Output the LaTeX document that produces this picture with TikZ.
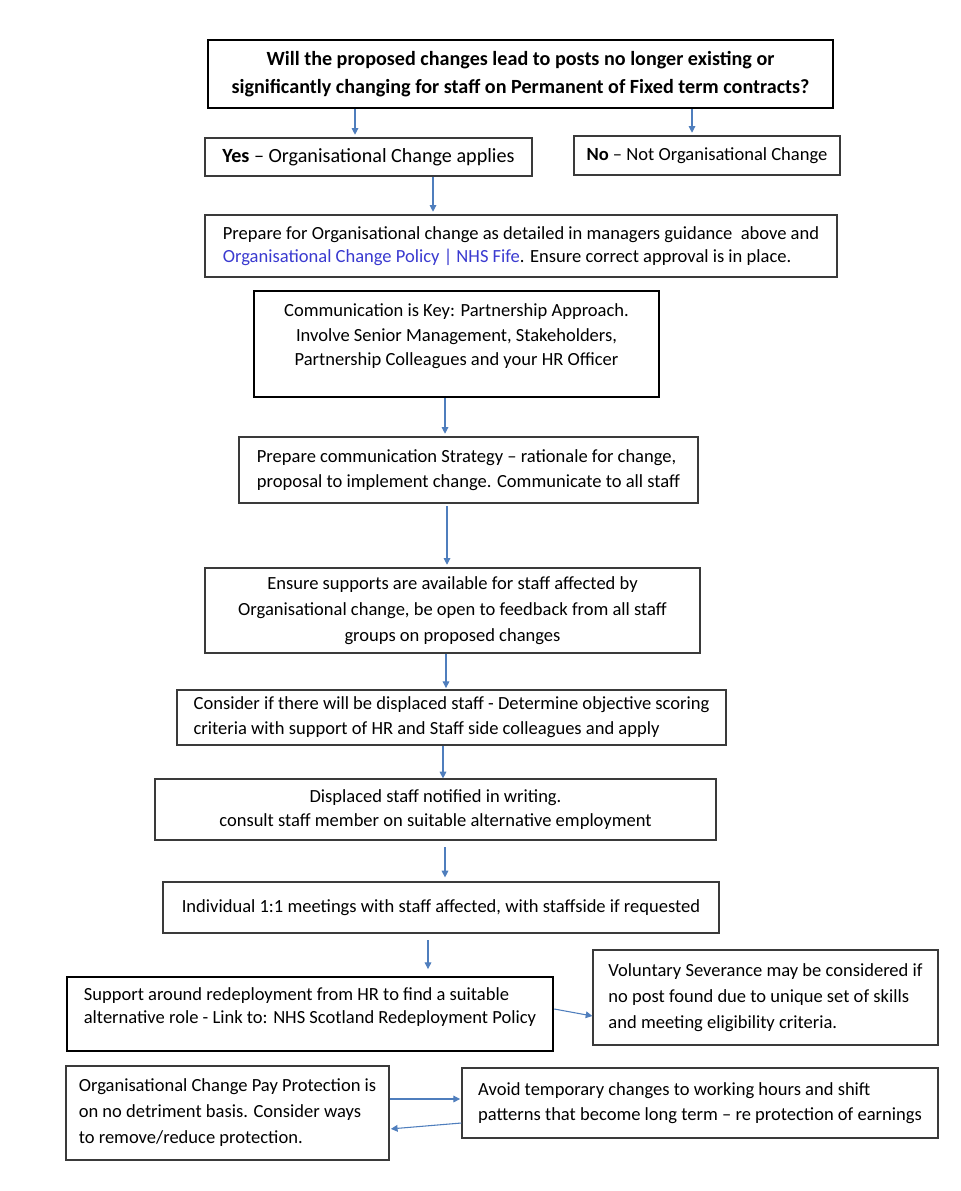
\documentclass[tikz,border=0pt]{standalone}
\usepackage{fontspec}
\setmainfont{Carlito}
\usetikzlibrary{arrows.meta}
\definecolor{arrblue}{HTML}{4F7EBD}
\definecolor{linkblue}{HTML}{3A3AD0}
\definecolor{boxgray}{HTML}{3A3A3A}
\tikzset{
  thinbox/.style={draw=boxgray, line width=0.9pt, inner sep=0pt, align=left,
    font=\fontsize{13.9}{18.6}\selectfont},
  thickbox/.style={thinbox, draw=black, line width=1.9pt},
  arr/.style={draw=arrblue, line width=0.8pt, -{Triangle[length=5pt,width=5pt]}}
}
\begin{document}
\begin{tikzpicture}[x=0.75pt,y=-0.75pt]
\useasboundingbox[fill=white] (0,0) rectangle (960,1191);

\node[thickbox, align=center, minimum width=468.75pt, minimum height=51pt,
  font=\fontsize{15.1}{21}\selectfont\bfseries] (q) at (520.5,74)
  {Will the proposed changes lead to posts no longer existing or\\
   significantly changing for staff on Permanent of Fixed term contracts?};

\node[thinbox, minimum width=245.25pt, minimum height=28.5pt,
  font=\fontsize{15.1}{18}\selectfont] (yes) at (368.5,157)
  {\textbf{Yes} – Organisational Change applies};

\node[thinbox, minimum width=199.5pt, minimum height=29.25pt] (no) at (707,155.5)
  {\textbf{No} – Not Organisational Change};

\node[thinbox, minimum width=474pt, minimum height=46.5pt,
  font=\fontsize{13.9}{17.5}\selectfont] (prep) at (521,246)
  {Prepare for Organisational change as detailed in managers guidance\ \ above and\\
   \textcolor{linkblue}{Organisational Change Policy | NHS Fife}. Ensure correct approval is in place.};

\node[thickbox, align=center, minimum width=303.75pt, minimum height=79.5pt,
  text depth=14pt] (comm) at (456.5,344)
  {Communication is Key: Partnership Approach.\\
   Involve Senior Management, Stakeholders,\\
   Partnership Colleagues and your HR Officer};

\node[thinbox, minimum width=344.25pt, minimum height=49.5pt] (strat) at (468.5,470)
  {Prepare communication Strategy – rationale for change,\\
   proposal to implement change. Communicate to all staff};

\node[thinbox, align=center, minimum width=371.25pt, minimum height=63.75pt,
  font=\fontsize{13.9}{19.5}\selectfont] (ensure) at (452.5,610.5)
  {Ensure supports are available for staff affected by\\
   Organisational change, be open to feedback from all staff\\
   groups on proposed changes};

\node[thinbox, minimum width=411.75pt, minimum height=41.25pt] (consider) at (451.5,717.5)
  {Consider if there will be displaced staff - Determine objective scoring\\
   criteria with support of HR and Staff side colleagues and apply};

\node[thinbox, align=center, minimum width=420.75pt, minimum height=45.75pt,
  font=\fontsize{13.9}{17.5}\selectfont] (displaced) at (435.5,809.5)
  {Displaced staff notified in writing.\\
   consult staff member on suitable alternative employment};

\node[thinbox, minimum width=417pt, minimum height=38.25pt] (indiv) at (441,907.5)
  {Individual 1:1 meetings with staff affected, with staffside if requested};

\node[thickbox, minimum width=364.5pt, minimum height=55.5pt, text depth=13pt,
  font=\fontsize{13.9}{17.5}\selectfont] (support) at (310,1014)
  {Support around redeployment from HR to find a suitable\\
   alternative role - Link to: NHS Scotland Redeployment Policy};

\node[thinbox, minimum width=258.75pt, minimum height=71.25pt,
  font=\fontsize{13.9}{19.5}\selectfont] (vol) at (765.5,997.5)
  {Voluntary Severance may be considered if\\
   no post found due to unique set of skills\\
   and meeting eligibility criteria.};

\node[thinbox, minimum width=242.25pt, minimum height=70.5pt,
  font=\fontsize{13.9}{19.5}\selectfont] (pay) at (227.5,1113)
  {Organisational Change Pay Protection is\\
   on no detriment basis. Consider ways\\
   to remove/reduce protection.};

\node[thinbox, minimum width=357pt, minimum height=52.5pt] (avoid) at (700,1103)
  {Avoid temporary changes to working hours and shift\\
   patterns that become long term – re protection of earnings};

% connectors
\draw[arr, shorten >=2pt] (q.south -| 355,0) -- (yes.north -| 355,0);
\draw[arr, shorten >=2pt] (q.south -| 692,0) -- (no.north -| 692,0);
\draw[arr, shorten >=2pt] (yes.south -| 433,0) -- (prep.north -| 433,0);
\draw[arr, shorten >=2pt] (comm.south -| 445,0) -- (strat.north -| 445,0);
\draw[arr, shorten <=2pt, shorten >=2pt] (strat.south -| 447,0) -- (ensure.north -| 447,0);
\draw[arr, shorten >=1pt] (ensure.south -| 446,0) -- (consider.north -| 446,0);
\draw[arr] (consider.south -| 443,0) -- (displaced.north -| 443,0);
\draw[arr, shorten <=5pt, shorten >=3pt] (displaced.south -| 445,0) -- (indiv.north -| 445,0);
\draw[arr, shorten <=5pt, shorten >=5pt] (indiv.south -| 428,0) -- (support.north -| 428,0);
\draw[arr] (support.east |- 0,1009) -- (vol.west |- 0,1016);
\draw[arr, shorten >=1pt] (pay.east |- 0,1099) -- (avoid.west |- 0,1099);
\draw[arr, shorten >=1pt] (avoid.west |- 0,1123) -- (pay.east |- 0,1129);
\end{tikzpicture}
\end{document}
